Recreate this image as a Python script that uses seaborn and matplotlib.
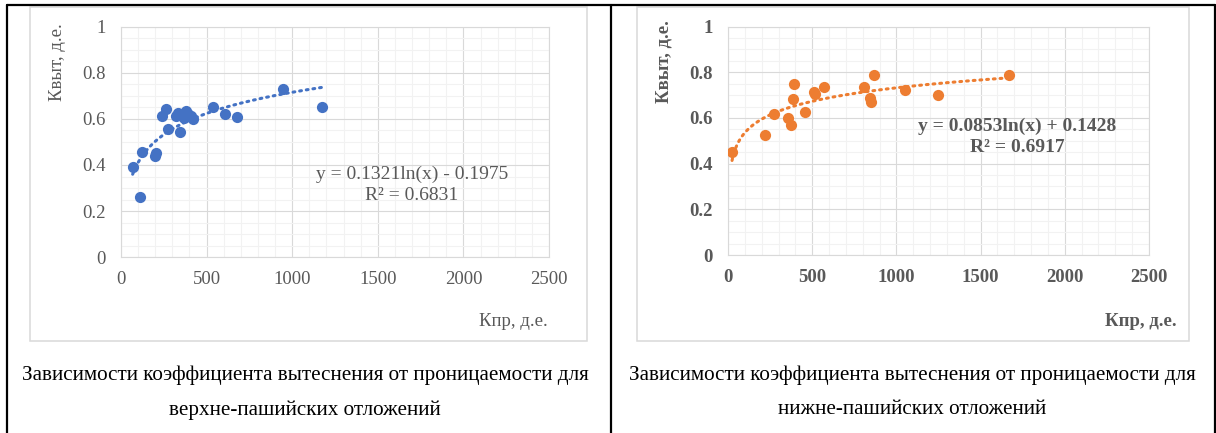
import matplotlib.pyplot as plt
import numpy as np
import pandas as pd
import seaborn as sns
from matplotlib.lines import Line2D
from matplotlib.patches import Rectangle
from matplotlib.ticker import MultipleLocator

# Upper Pashian deposits (left chart)
upper_kpr = [68, 111, 123, 198, 204, 239, 263, 272, 319, 331, 342,
             370, 379, 393, 409, 422, 535, 607, 675, 944, 1173]
upper_kvyt = [0.39, 0.26, 0.456, 0.44, 0.45, 0.612, 0.643, 0.557, 0.612, 0.624, 0.543,
              0.602, 0.635, 0.62, 0.612, 0.60, 0.65, 0.62, 0.61, 0.73, 0.651]
upper_coef = (0.1321, -0.1975)
upper_eq = ["y = 0.1321ln(x) - 0.1975", "R² = 0.6831"]

# Lower Pashian deposits (right chart)
lower_kpr = [24, 220, 274, 359, 375, 387, 393, 456, 512, 518, 569,
             810, 843, 849, 869, 1054, 1246, 1667]
lower_kvyt = [0.451, 0.524, 0.616, 0.599, 0.568, 0.682, 0.750, 0.628, 0.714, 0.705, 0.734,
              0.734, 0.688, 0.672, 0.790, 0.723, 0.699, 0.790]
lower_coef = (0.0853, 0.1428)
lower_eq = ["y = 0.0853ln(x) + 0.1428", "R² = 0.6917"]

x_ticks = [0, 500, 1000, 1500, 2000, 2500]
y_ticks = [0, 0.2, 0.4, 0.6, 0.8, 1.0]
y_tick_labels = ["0", "0.2", "0.4", "0.6", "0.8", "1"]

caption_1 = "Зависимости коэффициента вытеснения от проницаемости для"
caption_upper = "верхне-пашийских отложений"
caption_lower = "нижне-пашийских отложений"

sns.set_style("white")
plt.rcParams['font.family'] = ['Liberation Serif', 'DejaVu Serif']

W, H = 1216, 433
fig = plt.figure(figsize=(W / 100, H / 100), dpi=100)


def fx(x):
    return x / W


def fy(y):
    return 1 - y / H


TXT = '#595959'

# table borders
for xs, ys in [([7, 1215], [5, 5]), ([7, 7], [5, 433]), ([611, 611], [5, 433]), ([1215, 1215], [5, 433])]:
    fig.add_artist(Line2D([fx(v) for v in xs], [fy(v) for v in ys], color='black', lw=1.6))

# chart frames
for x0, x1 in [(30, 587), (637, 1189)]:
    fig.add_artist(Rectangle((fx(x0), fy(341)), (x1 - x0) / W, (341 - 7) / H,
                             fill=False, ec='#D9D9D9', lw=1.1))


def draw_panel(box, kpr, kvyt, color, coef, eq, weight, ylab_x, xlab_x, eq_pos, cap_x, cap2):
    left, right, top, bottom = box
    ax = fig.add_axes([fx(left), fy(bottom), (right - left) / W, (bottom - top) / H])
    ax.set_axisbelow(True)

    xs = np.linspace(min(kpr), max(kpr), 300)
    trend = pd.DataFrame({'x': xs, 'y': coef[0] * np.log(xs) + coef[1]})
    sns.lineplot(data=trend, x='x', y='y', ax=ax, color=color, lw=2.2,
                 linestyle=(0, (0.6, 1.6)), dash_capstyle='round')
    df = pd.DataFrame({'kpr': kpr, 'kvyt': kvyt})
    sns.scatterplot(data=df, x='kpr', y='kvyt', ax=ax, color=color, s=65, linewidth=0, zorder=3)

    ax.set_xlim(0, 2500)
    ax.set_ylim(0, 1)
    ax.set_xticks(x_ticks)
    ax.set_xticklabels([str(t) for t in x_ticks])
    ax.set_yticks(y_ticks)
    ax.set_yticklabels(y_tick_labels)
    ax.xaxis.set_minor_locator(MultipleLocator(100))
    ax.yaxis.set_minor_locator(MultipleLocator(0.05))
    ax.grid(which='major', color='#D9D9D9', lw=0.8)
    ax.grid(which='minor', color='#F2F2F2', lw=0.8)
    ax.tick_params(which='both', length=0)
    ax.tick_params(axis='y', pad=11)
    ax.tick_params(axis='x', pad=10)
    for lab in ax.get_xticklabels() + ax.get_yticklabels():
        lab.set_fontsize(13.5)
        lab.set_color(TXT)
        lab.set_fontweight(weight)
    for sp in ax.spines.values():
        sp.set_color('#D9D9D9')
        sp.set_linewidth(0.8)
    ax.set_xlabel('')
    ax.set_ylabel('')

    fig.text(fx(ylab_x), fy(62), "Квыт, д.е.", rotation=90, ha='center', va='center',
             fontsize=13.5, color=TXT, fontweight=weight)
    fig.text(fx(xlab_x), fy(322), "Кпр, д.е.", ha='right', va='center',
             fontsize=13.5, color=TXT, fontweight=weight)
    fig.text(fx(eq_pos[0]), fy(eq_pos[1]), eq[0], ha='center', va='center',
             fontsize=14, color=TXT, fontweight=weight)
    fig.text(fx(eq_pos[0]), fy(eq_pos[1] + 21), eq[1], ha='center', va='center',
             fontsize=14, color=TXT, fontweight=weight)

    fig.text(fx(cap_x), fy(375), caption_1, ha='center', va='center', fontsize=15.2, color='black')
    fig.text(fx(cap_x), fy(410), cap2, ha='center', va='center', fontsize=15.2, color='black')


draw_panel((121, 549, 26.5, 257.3), upper_kpr, upper_kvyt, '#4472C4', upper_coef, upper_eq,
           'normal', 58, 548, (412, 174), 305, caption_upper)
draw_panel((728, 1149, 26.6, 255), lower_kpr, lower_kvyt, '#ED7D31', lower_coef, lower_eq,
           'bold', 664, 1177, (1017, 126), 912, caption_lower)

fig.savefig('out.png', dpi=100)
